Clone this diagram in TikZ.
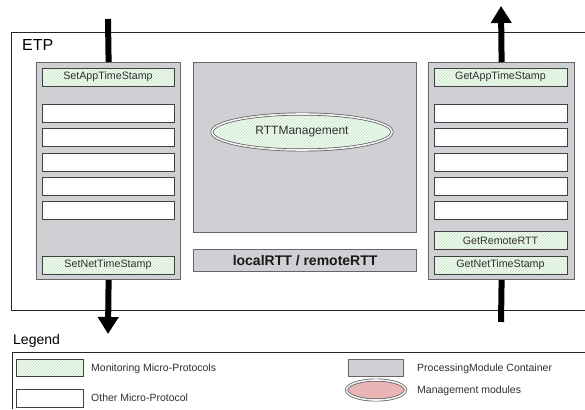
\documentclass[tikz,border=0pt]{standalone}
\usepackage{fontspec}
\setmainfont{Liberation Sans}
\usetikzlibrary{patterns,arrows.meta,shapes.geometric}
\definecolor{contgray}{HTML}{D0D0D4}
\definecolor{hatchgreen}{HTML}{C4E4C4}
\definecolor{palegreen}{HTML}{F2FBF2}
\definecolor{pinkfill}{HTML}{E8B4B4}
\definecolor{txt}{HTML}{303030}
\begin{document}
\begin{tikzpicture}[x=1pt,y=-1pt,
  cont/.style={draw=gray!80!black, line width=1.2pt, fill=contgray, anchor=north west, inner sep=0pt},
  mon/.style={draw=black!75, line width=0.8pt, preaction={fill=palegreen}, pattern=north east lines, pattern color=hatchgreen, minimum height=18pt, inner sep=0pt, text=txt, font=\fontsize{10.7}{12}\selectfont},
  other/.style={draw=black!75, line width=0.8pt, fill=white, minimum height=18pt, inner sep=0pt},
  mgmt/.style={ellipse, draw=black!65, double=white!90!gray, double distance=1.6pt, line width=0.7pt, inner sep=0pt},
  bar/.style={line width=6pt},
  tip/.style={-{Triangle[width=20pt,length=17pt]}},
  small/.style={anchor=west, inner sep=0pt, text=txt, font=\fontsize{10.5}{12}\selectfont}]
\useasboundingbox (0,0) rectangle (585,409);
\fill[white] (0,0) rectangle (585,409);
% ETP frame
\draw[line width=0.8pt, black!85] (585,32) -- (11,32) -- (11,310) -- (585,310);
\node[anchor=west, inner sep=0pt, font=\fontsize{16}{18}\selectfont] (etp) at (22,45) {ETP};
% left container
\node[cont, minimum width=144pt, minimum height=217pt] (lc) at (36,62) {};
\node[mon, minimum width=132pt] (sat) at (108,77) {SetAppTimeStamp};
\node[other, minimum width=132pt] (l1) at (108,113) {};
\node[other, minimum width=132pt] (l2) at (108,137.5) {};
\node[other, minimum width=132pt] (l3) at (108,162) {};
\node[other, minimum width=132pt] (l4) at (108,186) {};
\node[other, minimum width=132pt] (l5) at (108,210) {};
\node[mon, minimum width=132pt] (snt) at (108,265) {SetNetTimeStamp};
% middle container
\node[cont, minimum width=223pt, minimum height=170pt] (mc) at (193,62) {};
\node[mgmt, minimum width=180pt, minimum height=36pt, preaction={fill=palegreen}, pattern=north east lines, pattern color=hatchgreen, text=txt, font=\fontsize{12}{14}\selectfont] (rtt) at (302,132) {RTTManagement};
\node[cont, minimum width=223pt, minimum height=22pt, text=black!90, font=\bfseries\fontsize{14}{16}\selectfont] (lr) at (193,249) {localRTT / remoteRTT};
% right container
\node[cont, minimum width=146pt, minimum height=217pt] (rc) at (428,62) {};
\node[mon, minimum width=133pt] (gat) at (500.5,77) {GetAppTimeStamp};
\node[other, minimum width=133pt] (r1) at (500.5,113) {};
\node[other, minimum width=133pt] (r2) at (500.5,137.5) {};
\node[other, minimum width=133pt] (r3) at (500.5,162) {};
\node[other, minimum width=133pt] (r4) at (500.5,186) {};
\node[other, minimum width=133pt] (r5) at (500.5,210) {};
\node[mon, minimum width=133pt] (grr) at (500.5,240.5) {GetRemoteRTT};
\node[mon, minimum width=133pt] (gnt) at (500.5,265) {GetNetTimeStamp};
% arrows
\coordinate (ltop) at (108,19);
\coordinate (lbot) at (108,334);
\coordinate (rtop) at (501,6);
\coordinate (rbot) at (501,322);
\draw[bar] (ltop) -- (lc.north);
\draw[bar, tip] (lc.south) -- (lbot);
\draw[bar, tip] (rc.north) -- (rtop);
\draw[bar] (rc.south) -- (rbot);
% legend
\node[anchor=west, inner sep=0pt, font=\fontsize{14}{16}\selectfont] (leg) at (13,341) {Legend};
\draw[line width=0.8pt, black!85] (585,352) -- (12,352) -- (12,409);
\node[mon, minimum width=67pt, minimum height=17pt, anchor=north west] (lg1) at (16,359) {};
\node[small] (lt1) at (91,369) {Monitoring Micro-Protocols};
\node[other, minimum width=67pt, anchor=north west] (lg2) at (16,389) {};
\node[small] (lt2) at (91,398) {Other Micro-Protocol};
\node[cont, line width=0.9pt, minimum width=55pt, minimum height=17pt] (lg3) at (348,359) {};
\node[small] (lt3) at (417,369) {ProcessingModule Container};
\node[mgmt, fill=pinkfill, minimum width=59pt, minimum height=20pt] (lg4) at (376,390) {};
\node[small] (lt4) at (417,391) {Management modules};
\end{tikzpicture}
\end{document}
